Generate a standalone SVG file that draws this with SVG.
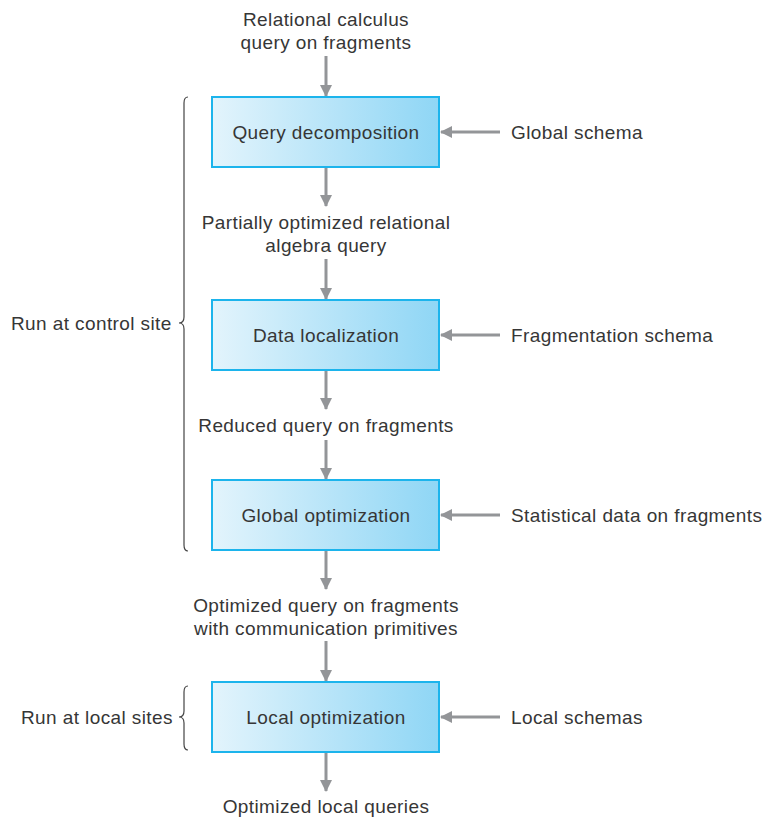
<svg xmlns="http://www.w3.org/2000/svg" width="765" height="817" viewBox="0 0 765 817">
<defs>
<linearGradient id="g" x1="0" y1="0" x2="1" y2="0">
<stop offset="0" stop-color="#e3f4fc"/>
<stop offset="1" stop-color="#8fd6f5"/>
</linearGradient>
<marker id="ah" markerWidth="12" markerHeight="12" viewBox="0 0 12 12" refX="11" refY="6" orient="auto" markerUnits="userSpaceOnUse">
<path d="M0,0 L12,6 L0,12 Z" fill="#939598"/>
</marker>
<style>
.box{fill:url(#g);stroke:#1cb4ec;stroke-width:2}
.t{font-family:"Liberation Sans",Arial,sans-serif;font-size:19px;letter-spacing:0.4px;fill:#363636;}
.c{text-anchor:middle}
.ln{stroke:#939598;stroke-width:3;fill:none}
.br{stroke:#444;stroke-width:1.2;fill:none}
</style>
</defs>
<g id="connectors">
<line class="ln" x1="326" y1="56" x2="326" y2="96" marker-end="url(#ah)"/>
<line class="ln" x1="326" y1="168" x2="326" y2="206" marker-end="url(#ah)"/>
<line class="ln" x1="326" y1="259" x2="326" y2="299" marker-end="url(#ah)"/>
<line class="ln" x1="326" y1="371" x2="326" y2="409" marker-end="url(#ah)"/>
<line class="ln" x1="326" y1="440" x2="326" y2="479" marker-end="url(#ah)"/>
<line class="ln" x1="326" y1="551" x2="326" y2="589" marker-end="url(#ah)"/>
<line class="ln" x1="326" y1="641" x2="326" y2="681" marker-end="url(#ah)"/>
<line class="ln" x1="326" y1="753" x2="326" y2="791" marker-end="url(#ah)"/>
<line class="ln" x1="500" y1="132" x2="441" y2="132" marker-end="url(#ah)"/>
<line class="ln" x1="500" y1="335" x2="441" y2="335" marker-end="url(#ah)"/>
<line class="ln" x1="500" y1="515" x2="441" y2="515" marker-end="url(#ah)"/>
<line class="ln" x1="500" y1="717" x2="441" y2="717" marker-end="url(#ah)"/>
</g>
<g id="n1"><rect class="box" x="212" y="97" width="227" height="70"/><text class="t c" x="326" y="139">Query decomposition</text></g>
<g id="n2"><rect class="box" x="212" y="300" width="227" height="70"/><text class="t c" x="326" y="342">Data localization</text></g>
<g id="n3"><rect class="box" x="212" y="480" width="227" height="70"/><text class="t c" x="326" y="522">Global optimization</text></g>
<g id="n4"><rect class="box" x="212" y="682" width="227" height="70"/><text class="t c" x="326" y="724">Local optimization</text></g>
<g id="labels">
<text class="t c" x="326" y="26">Relational calculus</text>
<text class="t c" x="326" y="49">query on fragments</text>
<text class="t c" x="326" y="229">Partially optimized relational</text>
<text class="t c" x="326" y="252">algebra query</text>
<text class="t c" x="326" y="432">Reduced query on fragments</text>
<text class="t c" x="326" y="612">Optimized query on fragments</text>
<text class="t c" x="326" y="635">with communication primitives</text>
<text class="t c" x="326" y="813">Optimized local queries</text>
<text class="t" x="511" y="139">Global schema</text>
<text class="t" x="511" y="342">Fragmentation schema</text>
<text class="t" x="511" y="522">Statistical data on fragments</text>
<text class="t" x="511" y="724">Local schemas</text>
<text class="t" x="11" y="330">Run at control site</text>
<text class="t" x="21" y="724">Run at local sites</text>
</g>
<g id="braces">
<path class="br" d="M188,97 Q184,97 184,103 L184,317 Q184,323 179,323 Q184,323 184,329 L184,545 Q184,551 188,551"/>
<path class="br" d="M188,686 Q184,686 184,692 L184,711 Q184,717 179,717 Q184,717 184,723 L184,744 Q184,750 188,750"/>
</g>
</svg>
